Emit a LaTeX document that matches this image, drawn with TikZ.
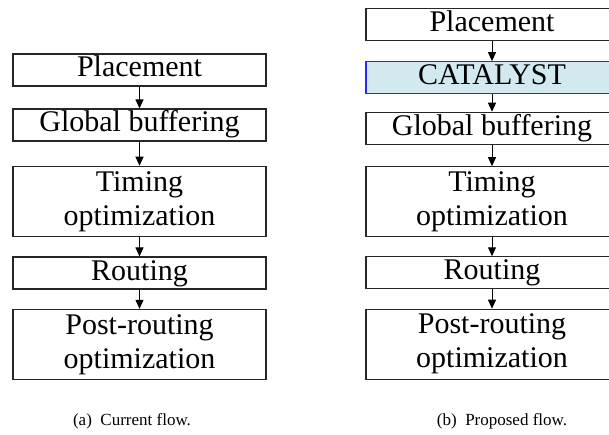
\documentclass[tikz,border=0pt]{standalone}
\usepackage{fontspec}
\setmainfont{Liberation Serif}
\usetikzlibrary{arrows.meta}
\definecolor{catfill}{RGB}{210,233,239}
\definecolor{catdraw}{RGB}{40,40,250}
\tikzset{
  box/.style={draw=black!85, line width=1.1pt, rectangle, inner sep=0pt,
    font=\fontsize{30}{34}\selectfont, align=center},
  lbox/.style={box, minimum width=253pt},
  rbox/.style={box, minimum width=252pt},
  one/.style={minimum height=32pt, text height=21pt, text depth=7pt},
  two/.style={minimum height=70pt},
  catbox/.style={fill=catfill, draw=catdraw},
  flow/.style={draw=black, line width=1pt, -{Triangle[width=8pt,length=9pt]}},
  captext/.style={font=\fontsize{17}{19}\selectfont, inner sep=0pt}
}
\begin{document}
\begin{tikzpicture}[x=1pt,y=-1pt]
\path[use as bounding box] (0,0) rectangle (609,435);
\clip (0,0) rectangle (609,435);
% left column
\node[lbox,one] (lp) at (139.5,70) {Placement};
\node[lbox,one] (lg) at (139.5,125) {Global buffering};
\node[lbox,two] (lt) at (139.5,201.3) {Timing\\optimization};
\node[lbox,one] (lr) at (139.5,273) {Routing};
\node[lbox,two] (lo) at (139.5,344.4) {Post-routing\\optimization};
\draw[flow] (lp.south) -- (lg.north);
\draw[flow] (lg.south) -- (lt.north);
\draw[flow] (lt.south) -- (lr.north);
\draw[flow] (lr.south) -- (lo.north);
% right column
\node[rbox,one] (rp) at (492,24.5) {Placement};
\node[rbox,one,catbox] (rc) at (492,77.7) {CATALYST};
\node[rbox,one] (rg) at (492,128.3) {Global buffering};
\node[rbox,two] (rt) at (492,201.7) {Timing\\optimization};
\node[rbox,one] (rr) at (492,272.8) {Routing};
\node[rbox,two] (ro) at (492,344.2) {Post-routing\\optimization};
\draw[flow] (rp.south) -- (rc.north);
\draw[flow] (rc.south) -- (rg.north);
\draw[flow] (rg.south) -- (rt.north);
\draw[flow] (rt.south) -- (rr.north);
\draw[flow] (rr.south) -- (ro.north);
% captions
\node[captext] (ca) at (132,421) {(a)\hspace{0.5em}Current flow.};
\node[captext] (cb) at (502,421) {(b)\hspace{0.5em}Proposed flow.};
\end{tikzpicture}
\end{document}
